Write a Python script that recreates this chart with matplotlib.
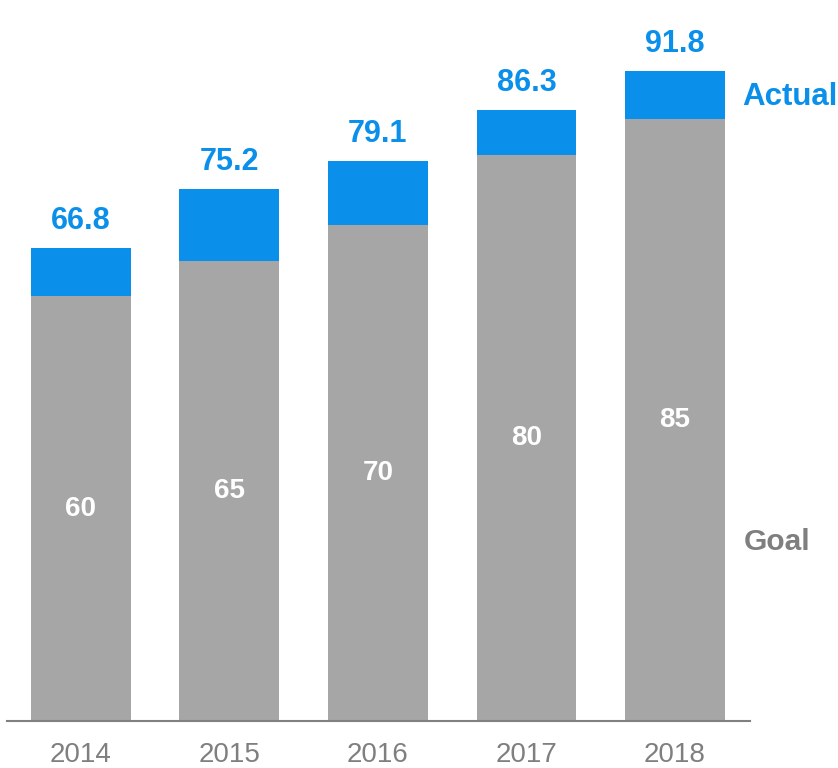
import matplotlib.pyplot as plt

plt.rcParams['font.family'] = ['Liberation Sans', 'DejaVu Sans']

years = ['2014', '2015', '2016', '2017', '2018']
goal = [60, 65, 70, 80, 85]
actual = [66.8, 75.2, 79.1, 86.3, 91.8]

gray = '#A6A6A6'
blue = '#0A90EA'
label_gray = '#7F7F7F'

fig = plt.figure(figsize=(8.38, 7.68), dpi=100)
ax = fig.add_axes([7 / 838, 1 - 721 / 768, 743 / 838, 708 / 768])

x = range(len(years))
extra = [a - g for a, g in zip(actual, goal)]
ax.bar(x, goal, width=0.673, color=gray)
ax.bar(x, extra, bottom=goal, width=0.673, color=blue)

for i in x:
    ax.text(i, goal[i] / 2, str(goal[i]), ha='center', va='center',
            color='white', fontsize=20, fontweight='bold')
    ax.annotate(f'{actual[i]:.1f}', (i, actual[i]), xytext=(0, 27),
                textcoords='offset pixels', ha='center', va='center',
                color=blue, fontsize=22, fontweight='bold')

ax.set_xlim(-0.498, 4.505)
ax.set_ylim(0, 100)
ax.set_xticks(list(x))
ax.set_xticklabels(years, fontsize=20, color=label_gray)
ax.tick_params(axis='x', length=0, pad=15)
ax.set_yticks([])
for s in ['top', 'right', 'left']:
    ax.spines[s].set_visible(False)
ax.spines['bottom'].set_color('#808080')
ax.spines['bottom'].set_linewidth(1.5)

# series names on the right
fig.text(742 / 838, 1 - 97 / 768, 'Actual', ha='left', va='center',
         color=blue, fontsize=22.5, fontweight='bold')
fig.text(744 / 838, 1 - 542 / 768, 'Goal', ha='left', va='center',
         color=label_gray, fontsize=21.5, fontweight='bold')

fig.savefig('out.png', dpi=100)
